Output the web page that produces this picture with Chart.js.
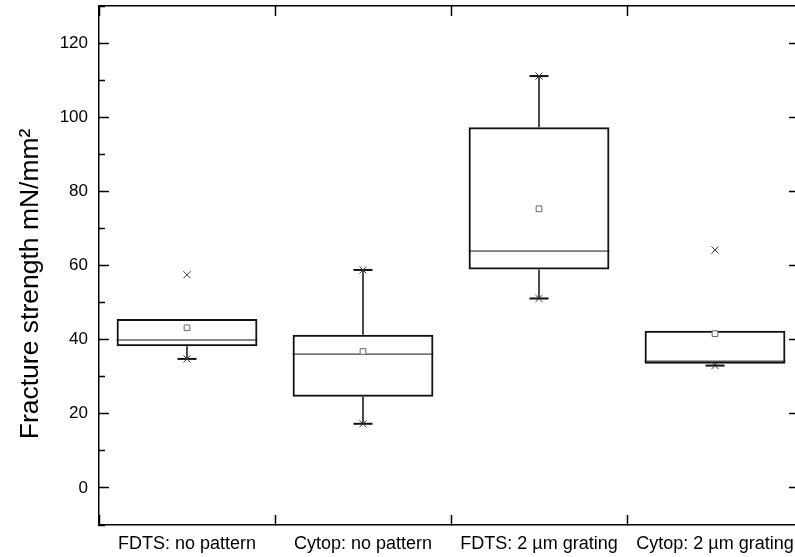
<!DOCTYPE html>
<html>
<head>
<meta charset="utf-8">
<script src="https://cdn.jsdelivr.net/npm/chart.js@4.4.0/dist/chart.umd.min.js"></script>
<style>
html, body { margin: 0; padding: 0; background: #fff; overflow: hidden; }
canvas { display: block; }
</style>
</head>
<body>
<canvas id="myChart" width="810" height="557"></canvas>
<script>
var categories = ['FDTS: no pattern', 'Cytop: no pattern', 'FDTS: 2 \u00b5m grating', 'Cytop: 2 \u00b5m grating'];
var q1 = [38.2, 24.6, 58.9, 33.5];
var q3 = [45.6, 41.3, 97.3, 42.4];
var medians = [39.9, 36.1, 63.9, 34.2];
var means = [43.2, 36.8, 75.3, 41.6];
var whiskerLow = [34.8, 17.3, 51.1, 33.0];
var whiskerHigh = [null, 58.8, 111.1, null];
var outliers = [57.5, null, null, 64.2];

Chart.defaults.font.family = "'Liberation Sans', Arial, sans-serif";
Chart.defaults.color = '#000';

// build the boxplot pieces from the arrays
var boxData = [], medianData = [], whiskerData = [], capData = [], crossData = [], meanData = [];
categories.forEach(function(c, i) {
    var x = i + 1;
    boxData.push({x: x, y: [q1[i], q3[i]]});
    medianData.push({x: x - 0.4, y: medians[i]}, {x: x + 0.4, y: medians[i]}, {x: x + 0.5, y: null});
    whiskerData.push({x: x, y: q1[i]}, {x: x, y: whiskerLow[i]}, {x: x, y: null});
    capData.push({x: x, y: whiskerLow[i]});
    crossData.push({x: x, y: whiskerLow[i]});
    if (whiskerHigh[i] !== null) {
        whiskerData.push({x: x, y: q3[i]}, {x: x, y: whiskerHigh[i]}, {x: x, y: null});
        capData.push({x: x, y: whiskerHigh[i]});
        crossData.push({x: x, y: whiskerHigh[i]});
    }
    if (outliers[i] !== null) {
        crossData.push({x: x, y: outliers[i]});
    }
    meanData.push({x: x, y: means[i]});
});

function isMinor(ctx) {
    return ctx.tick && ctx.tick.value % 20 !== 0;
}

function catTicks(axis) {
    axis.ticks = categories.map(function(c, i) { return {value: i + 1}; });
}

// pin the plot frame: no extra label padding
function pin(w, h) {
    return function(a) {
        if (w !== null) a.width = w;
        if (h !== null) a.height = h;
        a.paddingTop = 0; a.paddingBottom = 0;
        a.paddingLeft = 0; a.paddingRight = 0;
    };
}

var frame = {color: '#000', width: 1.5};

var config = {
    type: 'bar',
    data: {
        datasets: [{
            type: 'line',
            data: meanData,
            showLine: false,
            pointStyle: 'rect',
            pointRadius: 4,
            pointBorderWidth: 1,
            pointBorderColor: '#666',
            pointBackgroundColor: '#fff'
        }, {
            type: 'line',
            data: crossData,
            showLine: false,
            pointStyle: 'crossRot',
            pointRadius: 5,
            pointBorderWidth: 1,
            pointBorderColor: '#333'
        }, {
            type: 'line',
            data: capData,
            showLine: false,
            pointStyle: 'line',
            pointRadius: 9.5,
            pointBorderWidth: 2,
            pointBorderColor: '#111'
        }, {
            type: 'line',
            data: whiskerData,
            borderColor: '#111',
            borderWidth: 1.5,
            pointRadius: 0,
            spanGaps: false
        }, {
            type: 'line',
            data: medianData,
            borderColor: '#111',
            borderWidth: 1,
            pointRadius: 0,
            spanGaps: false
        }, {
            type: 'bar',
            data: boxData,
            order: 5,
            backgroundColor: 'rgba(0,0,0,0)',
            borderColor: '#111',
            borderWidth: 2,
            borderSkipped: false,
            categoryPercentage: 1,
            barPercentage: 0.8
        }]
    },
    options: {
        responsive: false,
        animation: false,
        events: [],
        layout: {padding: 0, autoPadding: false},
        plugins: {
            legend: {display: false},
            tooltip: {enabled: false}
        },
        scales: {
            x: {
                type: 'linear', position: 'bottom', min: 0.5, max: 4.5, offset: false,
                afterBuildTicks: catTicks,
                afterFit: pin(null, 32),
                grid: {drawOnChartArea: false, tickLength: -10, tickWidth: 1.5, tickColor: '#000'},
                border: frame,
                ticks: {
                    padding: 18, maxRotation: 0, autoSkip: false, font: {size: 18},
                    callback: function(v) { return categories[v - 1]; }
                }
            },
            x2: {
                type: 'linear', position: 'top', min: 0.5, max: 4.5, offset: false,
                afterBuildTicks: catTicks,
                afterFit: pin(null, 6),
                grid: {drawOnChartArea: false, tickLength: -10, tickWidth: 1.5, tickColor: '#000'},
                border: frame,
                ticks: {display: false}
            },
            y: {
                type: 'linear', position: 'left', min: -10, max: 130,
                afterFit: pin(99, null),
                grid: {
                    drawOnChartArea: false, tickLength: -10, tickWidth: 1.5, tickColor: '#000',
                    tickBorderDash: function(ctx) { return isMinor(ctx) ? [6, 4] : []; },
                    tickBorderDashOffset: function(ctx) { return isMinor(ctx) ? 6 : 0; }
                },
                border: frame,
                ticks: {
                    stepSize: 10, padding: 21, font: {size: 17},
                    callback: function(v) { return v % 20 === 0 ? v : ''; }
                },
                title: {
                    display: true,
                    text: 'Fracture strength mN/mm\u00b2     ',
                    font: {size: 26.5},
                    padding: {top: 15, bottom: 0}
                }
            },
            y2: {
                type: 'linear', position: 'right', min: -10, max: 130,
                afterFit: pin(7, null),
                grid: {
                    drawOnChartArea: false, tickLength: -14, tickWidth: 1.5, tickColor: '#000',
                    tickBorderDash: function(ctx) { return isMinor(ctx) ? [6, 20] : []; }
                },
                border: frame,
                ticks: {stepSize: 10, display: false}
            }
        }
    }
};

var ctx = document.getElementById('myChart');
var myChart = new Chart(ctx, config);
</script>
</body>
</html>
